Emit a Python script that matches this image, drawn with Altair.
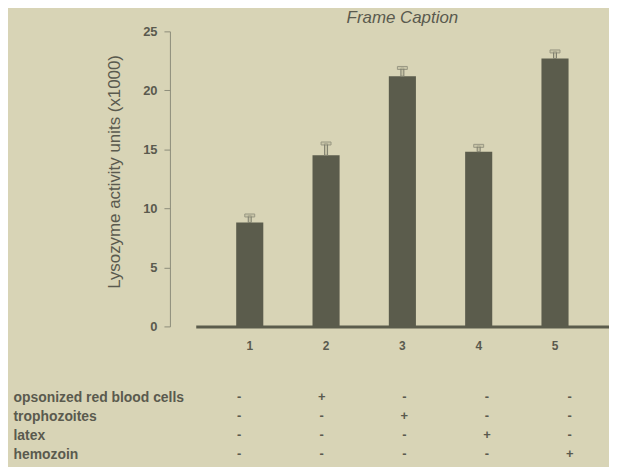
import altair as alt
import pandas as pd

groups = ["1", "2", "3", "4", "5"]
means = [8.8, 14.5, 21.2, 14.8, 22.7]
uppers = [9.4, 15.5, 21.9, 15.3, 23.3]
treatments = ["opsonized red blood cells", "trophozoites", "latex", "hemozoin"]
signs = [
    ["-", "+", "-", "-", "-"],
    ["-", "-", "+", "-", "-"],
    ["-", "-", "-", "+", "-"],
    ["-", "-", "-", "-", "+"],
]
y_ticks = [0, 5, 10, 15, 20, 25]

BG = "#D8D4B6"
DARK = "#5B5C4C"
TXT = "#5A5A4E"
AXC = "#8C8C7A"

bars = pd.DataFrame({"group": groups, "mean": means, "upper": uppers})
table = pd.DataFrame(
    [
        {"treatment": t, "group": g, "sign": signs[i][j]}
        for i, t in enumerate(treatments)
        for j, g in enumerate(groups)
    ]
)

W = 416
H = 297
xscale = alt.Scale(domain=groups, paddingInner=0.645, paddingOuter=0.53)

base = alt.Chart(bars).encode(
    x=alt.X(
        "group:N",
        scale=xscale,
        sort=groups,
        axis=alt.Axis(
            title=None,
            labelAngle=0,
            ticks=False,
            domainColor=DARK,
            domainWidth=3,
            labelPadding=14,
            labelFontSize=12,
            labelFontWeight="bold",
            labelColor=TXT,
            labelFont="Liberation Sans",
        ),
    )
)

yaxis = alt.Axis(
    title="Lysozyme activity units (x1000)",
    values=y_ticks,
    offset=26,
    tickSize=6,
    tickColor=AXC,
    domainColor=AXC,
    grid=False,
    labelPadding=7,
    labelFontSize=13,
    labelFontWeight="bold",
    labelColor=TXT,
    labelFont="Liberation Sans",
    titleFont="Liberation Sans",
    titleFontSize=17,
    titleFontWeight="normal",
    titleColor=TXT,
    titlePadding=19,
    titleY=141,
)

bar_layer = base.mark_bar(color=DARK).encode(
    y=alt.Y("mean:Q", scale=alt.Scale(domain=[0, 25], nice=False), axis=yaxis)
)
stem = base.mark_bar(width=3, fill="#C4C1A4", stroke="#7F7F6E", strokeWidth=1).encode(
    y="mean:Q", y2="upper:Q"
)
cap = base.mark_tick(
    size=10, thickness=3, fill="#C4C1A4", stroke="#7F7F6E", strokeWidth=1, orient="horizontal"
).encode(y="upper:Q")

top = alt.layer(bar_layer, stem, cap).properties(
    width=W,
    height=H,
    title=alt.TitleParams(
        "Frame Caption",
        font="Liberation Sans",
        fontSize=17,
        fontStyle="italic",
        fontWeight="normal",
        color=TXT,
        anchor="middle",
        offset=-2,
    ),
)

bottom = (
    alt.Chart(table)
    .mark_text(font="Liberation Sans", fontSize=13, fontWeight="bold", color=TXT, dx=2)
    .encode(
        x=alt.X("group:N", scale=xscale, sort=groups, axis=None),
        y=alt.Y(
            "treatment:N",
            sort=treatments,
            scale=alt.Scale(paddingInner=0, paddingOuter=0),
            axis=alt.Axis(
                title=None,
                domain=False,
                ticks=False,
                tickSize=0,
                labelAlign="left",
                labelPadding=184,
                labelFontSize=14,
                labelFontWeight="bold",
                labelColor=TXT,
                labelFont="Liberation Sans",
            ),
        ),
        text="sign:N",
    )
    .properties(width=W, height=76)
)

chart = (
    alt.vconcat(top, bottom, spacing=37)
    .properties(
        background=BG,
        padding={"left": 5, "top": 0, "right": 0, "bottom": 3},
    )
    .configure_view(stroke=None)
)

chart.save("out.html", embed_options={"renderer": "svg", "actions": False})
